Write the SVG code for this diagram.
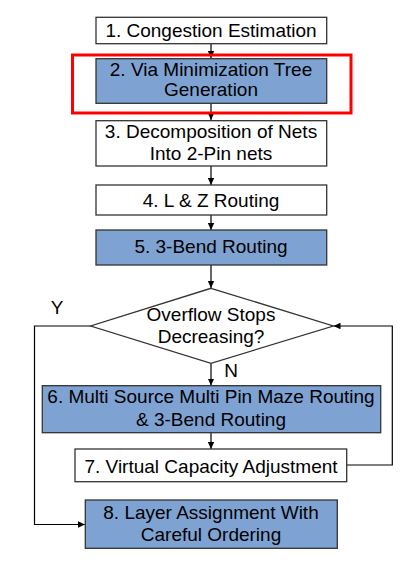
<svg xmlns="http://www.w3.org/2000/svg" width="414" height="564" viewBox="0 0 414 564">
<defs>
<style>
.box{stroke:#333;stroke-width:1.3;fill:#fff}
.blue{fill:#7ea3d3}
.t{font-family:"Liberation Sans",Arial,sans-serif;font-size:19px;fill:#000;text-anchor:middle}
.c{fill:none;stroke:#000;stroke-width:1.2}
</style>
<marker id="ah" markerWidth="8" markerHeight="8" refX="7" refY="4" orient="auto" markerUnits="userSpaceOnUse">
<path d="M0,0.8 L7,4 L0,7.2 Z" fill="#000"/>
</marker>
</defs>
<rect width="414" height="564" fill="#fff"/>
<g id="connectors">
<path class="c" d="M211,44 V58" marker-end="url(#ah)"/>
<path class="c" d="M211,103.5 V120" marker-end="url(#ah)"/>
<path class="c" d="M211,166 V185" marker-end="url(#ah)"/>
<path class="c" d="M211,215 V230" marker-end="url(#ah)"/>
<path class="c" d="M211,265 V288" marker-end="url(#ah)"/>
<path class="c" d="M211,363.5 V385.5" marker-end="url(#ah)"/>
<path class="c" d="M211,433 V449" marker-end="url(#ah)"/>
<path class="c" d="M90.7,326 H34.5 V524.5 H85" marker-end="url(#ah)"/>
<path class="c" d="M346.7,465 H392.3 V326 H333.5" marker-end="url(#ah)"/>
<text class="t" x="57" y="314">Y</text>
<text class="t" x="231" y="377">N</text>
</g>
<g id="n1"><rect class="box" x="96" y="17.3" width="230.7" height="26.4"/><text class="t" x="211" y="36.5">1. Congestion Estimation</text></g>
<g id="n2"><rect class="box blue" x="96" y="58.7" width="230.7" height="44.6"/><text class="t" x="211" y="75.5">2. Via Minimization Tree</text><text class="t" x="211" y="96">Generation</text></g>
<g id="highlight"><rect x="72.5" y="55" width="278.5" height="58" fill="none" stroke="#f00" stroke-width="3"/></g>
<g id="n3"><rect class="box" x="96" y="120.7" width="230.7" height="45.3"/><text class="t" x="211" y="138">3. Decomposition of Nets</text><text class="t" x="211" y="159.5">Into 2-Pin nets</text></g>
<g id="n4"><rect class="box" x="96" y="185" width="230.7" height="30"/><text class="t" x="211" y="206.5">4. L &amp; Z Routing</text></g>
<g id="n5"><rect class="box blue" x="96" y="230" width="230.7" height="35"/><text class="t" x="211" y="252.5">5. 3-Bend Routing</text></g>
<g id="n_dec"><polygon class="box" points="211,288.3 333.3,326 211,363.3 90.7,326"/><text class="t" x="211" y="320.5">Overflow Stops</text><text class="t" x="211" y="342.5">Decreasing?</text></g>
<g id="n6"><rect class="box blue" x="42.3" y="385.7" width="338.4" height="47"/><text class="t" x="211" y="402.5">6. Multi Source Multi Pin Maze Routing</text><text class="t" x="211" y="425.5">&amp; 3-Bend Routing</text></g>
<g id="n7"><rect class="box" x="75" y="449" width="271.7" height="32.7"/><text class="t" x="211" y="472.5">7. Virtual Capacity Adjustment</text></g>
<g id="n8"><rect class="box blue" x="85.3" y="500" width="252" height="48.3"/><text class="t" x="211" y="519">8. Layer Assignment With</text><text class="t" x="211" y="541">Careful Ordering</text></g>
</svg>
